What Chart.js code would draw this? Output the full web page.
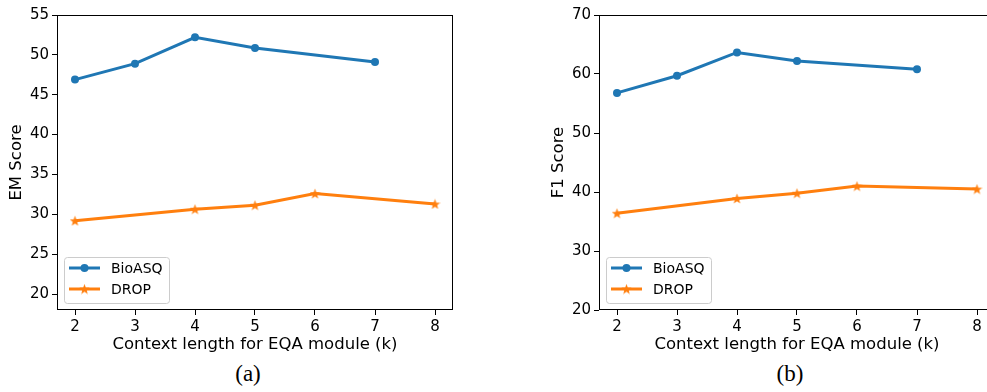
<!DOCTYPE html>
<html>
<head>
<meta charset="utf-8">
<script src="https://cdn.jsdelivr.net/npm/chart.js@4.4.0/dist/chart.umd.min.js"></script>
<style>
  html, body { margin: 0; padding: 0; background: #fff; width: 987px; height: 392px; overflow: hidden; position: relative; }
  canvas { position: absolute; top: 0; }
  #chartA { left: 0; }
  #chartB { left: 542px; }
  .caption { position: absolute; top: 361px; font-family: 'Liberation Serif', serif; font-size: 23px; line-height: 26px; transform: translateX(-50%); color: #000; }
</style>
</head>
<body>
<canvas id="chartA" width="470" height="355"></canvas>
<canvas id="chartB" width="470" height="355"></canvas>
<div class="caption" style="left:248px">(a)</div>
<div class="caption" style="left:790px">(b)</div>
<script>
// Data (k = context length, null = not measured)
const kValues = [2, 3, 4, 5, 6, 7, 8];
const emBioasq = [46.9, 48.9, 52.2, 50.85, null, 49.1, null];
const emDrop = [29.2, null, 30.65, 31.15, 32.6, null, 31.3];
const f1Bioasq = [56.8, 59.7, 63.65, 62.2, null, 60.8, null];
const f1Drop = [36.4, null, 38.9, 39.8, 41.0, null, 40.5];

// Tick labels
const xTicks = [2, 3, 4, 5, 6, 7, 8];
const emTicks = [20, 25, 30, 35, 40, 45, 50, 55];
const f1Ticks = [20, 30, 40, 50, 60, 70];

const blue = '#1f77b4';
const orange = '#ff7f0e';
const fontFamily = "'DejaVu Sans', sans-serif";

// filled star, like matplotlib '*'
function makeStar(size, color) {
    const c = document.createElement('canvas');
    c.width = size;
    c.height = size;
    const ctx = c.getContext('2d');
    const cx = size / 2, cy = size / 2 + 0.5, outer = size / 2, inner = outer * 0.42;
    ctx.beginPath();
    for (let i = 0; i < 10; i++) {
        const r = i % 2 === 0 ? outer : inner;
        const a = -Math.PI / 2 + i * Math.PI / 5;
        ctx.lineTo(cx + r * Math.cos(a), cy + r * Math.sin(a));
    }
    ctx.closePath();
    ctx.fillStyle = color;
    ctx.fill();
    return c;
}
const starMarker = makeStar(11, orange);

function toPoints(values) {
    return kValues.map((k, i) => ({ x: k, y: values[i] })).filter(p => p.y !== null);
}

// axes frame + legend inside the plot (lower left)
const framePlugin = {
    id: 'frame',
    afterDraw(chart) {
        const { ctx, chartArea } = chart;
        ctx.save();
        ctx.strokeStyle = '#000';
        ctx.lineWidth = 1;
        ctx.strokeRect(chartArea.left + 0.5, chartArea.top + 0.5,
            chartArea.right - chartArea.left - 1, chartArea.bottom - chartArea.top - 1);

        // legend box
        const bx = chartArea.left + 7, by = chartArea.bottom - 53, bw = 105, bh = 46;
        ctx.beginPath();
        ctx.roundRect(bx + 0.5, by + 0.5, bw, bh, 3);
        ctx.fillStyle = 'rgba(255,255,255,0.8)';
        ctx.fill();
        ctx.strokeStyle = '#cccccc';
        ctx.stroke();

        chart.data.datasets.forEach((ds, i) => {
            const ly = by + 11 + i * 21;
            ctx.beginPath();
            ctx.moveTo(bx + 5, ly);
            ctx.lineTo(bx + 36, ly);
            ctx.strokeStyle = ds.borderColor;
            ctx.lineWidth = 3;
            ctx.stroke();
            const mx = bx + 20.5;
            if (ds.pointStyle === 'circle') {
                ctx.beginPath();
                ctx.arc(mx, ly, 4, 0, Math.PI * 2);
                ctx.fillStyle = ds.borderColor;
                ctx.fill();
            } else {
                ctx.drawImage(starMarker, mx - 5.5, ly - 5.5);
            }
            ctx.fillStyle = '#000';
            ctx.font = '14px ' + fontFamily;
            ctx.textBaseline = 'middle';
            ctx.fillText(ds.label, bx + 47, ly + 1);
        });
        ctx.restore();
    }
};

function makeChart(canvasId, yTitle, bioasq, drop, yMin, yMax, yTicks) {
    return new Chart(document.getElementById(canvasId), {
        type: 'line',
        data: {
            datasets: [
                {
                    label: 'BioASQ',
                    data: toPoints(bioasq),
                    borderColor: blue,
                    backgroundColor: blue,
                    borderWidth: 3,
                    pointStyle: 'circle',
                    pointRadius: 4,
                    pointBorderWidth: 0,
                    tension: 0
                },
                {
                    label: 'DROP',
                    data: toPoints(drop),
                    borderColor: orange,
                    backgroundColor: orange,
                    borderWidth: 3,
                    pointStyle: starMarker,
                    pointRadius: 5,
                    tension: 0
                }
            ]
        },
        options: {
            responsive: false,
            animation: false,
            devicePixelRatio: 1,
            events: [],
            layout: { padding: { left: 0, right: 17, top: 15, bottom: 0 } },
            scales: {
                x: {
                    type: 'linear',
                    min: 1.7,
                    max: 8.3,
                    afterBuildTicks: axis => { axis.ticks = xTicks.map(v => ({ value: v })); },
                    afterFit: scale => { scale.height = 45; },
                    grid: { drawOnChartArea: false, drawTicks: true, tickLength: 5, color: '#000' },
                    border: { display: false },
                    ticks: { color: '#000', font: { family: fontFamily, size: 15 }, padding: 3, maxRotation: 0 },
                    title: {
                        display: true,
                        text: 'Context length for EQA module (k)',
                        color: '#000',
                        font: { family: fontFamily, size: 16.5 },
                        padding: { top: 0, bottom: 0 }
                    }
                },
                y: {
                    min: yMin,
                    max: yMax,
                    afterBuildTicks: axis => { axis.ticks = yTicks.map(v => ({ value: v })); },
                    afterFit: scale => { scale.width = 57; },
                    grid: { drawOnChartArea: false, drawTicks: true, tickLength: 5, color: '#000' },
                    border: { display: false },
                    ticks: { color: '#000', font: { family: fontFamily, size: 15 }, padding: 3 },
                    title: {
                        display: true,
                        text: yTitle,
                        color: '#000',
                        font: { family: fontFamily, size: 16.5 },
                        padding: { top: 6.5, bottom: 0 }
                    }
                }
            },
            plugins: {
                legend: { display: false },
                tooltip: { enabled: false }
            }
        },
        plugins: [framePlugin]
    });
}

makeChart('chartA', 'EM Score', emBioasq, emDrop, 18, 55, emTicks);
makeChart('chartB', 'F1 Score', f1Bioasq, f1Drop, 20, 70, f1Ticks);
</script>
</body>
</html>
